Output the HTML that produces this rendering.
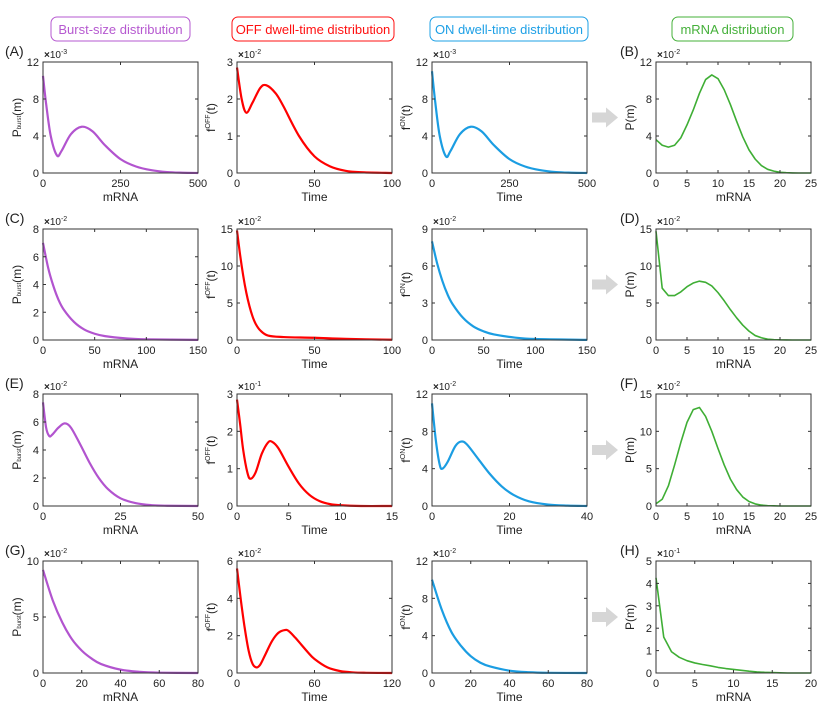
<!DOCTYPE html>
<html><head><meta charset="utf-8"><style>
body{margin:0;background:#fff;}
svg{display:block;font-family:"Liberation Sans",Arial,sans-serif;}
</style></head><body>
<svg id="fig" width="826" height="717" viewBox="0 0 826 717" xmlns="http://www.w3.org/2000/svg">
<rect width="826" height="717" fill="#fff"/>
<g><rect x="51" y="17" width="139" height="24" rx="6" fill="none" stroke="#b659d0" stroke-width="1"/><text x="120.5" y="34" text-anchor="middle" font-size="13" fill="#b659d0">Burst-size distribution</text></g>
<g><rect x="232" y="17" width="162" height="24" rx="6" fill="none" stroke="#ff1010" stroke-width="1"/><text x="313" y="34" text-anchor="middle" font-size="13" fill="#ff1010">OFF dwell-time distribution</text></g>
<g><rect x="430" y="17" width="158" height="24" rx="6" fill="none" stroke="#1ea0e6" stroke-width="1"/><text x="509" y="34" text-anchor="middle" font-size="13" fill="#1ea0e6">ON dwell-time distribution</text></g>
<g><rect x="672" y="17" width="121" height="24" rx="6" fill="none" stroke="#45b03a" stroke-width="1"/><text x="732.5" y="34" text-anchor="middle" font-size="13" fill="#45b03a">mRNA distribution</text></g>
</svg>
<script>
// ---- data ----
const burstA_x=[0,10,25,45,60,90,125,160,200,250,300,350,400,450,500];
const burstA_y=[10.5,7.5,4,1.9,2.4,4.2,5,4.5,3,1.5,0.7,0.3,0.1,0.03,0];
const offA_x=[0,3,6,10,15,19,25,30,40,50,60,70,80,100];
const offA_y=[2.85,2,1.63,1.9,2.3,2.37,2.15,1.8,1.0,0.45,0.18,0.06,0.02,0];
const onA_x=[0,10,25,45,60,90,125,160,200,250,300,350,400,450,500];
const onA_y=[11,7.8,4,1.8,2.4,4.2,5,4.5,3,1.5,0.7,0.3,0.1,0.03,0];
const mrnaB_y=[3.6,3.0,2.8,3.0,3.8,5.2,6.8,8.6,10.1,10.6,10.2,9.0,7.4,5.6,3.9,2.5,1.5,0.8,0.4,0.2,0.08,0.03,0.01,0,0,0];
const burstC_x=[0,5,10,15,20,30,40,50,60,80,100,150];
const burstC_y=[7,5.2,3.9,2.9,2.2,1.3,0.75,0.45,0.28,0.12,0.05,0.01];
const offC_x=[0,2,4,6,8,10,12,15,20,30,50,70,100];
const offC_y=[14.8,11.5,8.7,6.4,4.6,3.2,2.2,1.3,0.6,0.4,0.3,0.15,0.03];
const onC_x=[0,5,10,15,20,30,40,50,60,80,100,150];
const onC_y=[8,6.2,4.8,3.7,2.9,1.8,1.1,0.7,0.45,0.2,0.08,0.01];
const mrnaD_y=[14.7,7,6,6,6.5,7.2,7.7,7.95,7.8,7.3,6.4,5.3,4.1,3.0,2.0,1.2,0.6,0.3,0.12,0.05,0.02,0.01,0,0,0,0];
const burstE_x=[0,1,2,3,5,7,9,12,15,18,21,25,30,35,40,50];
const burstE_y=[7.4,5.6,5.0,5.1,5.6,5.9,5.6,4.4,3.1,2.0,1.2,0.55,0.2,0.06,0.02,0];
const offE_x=[0,0.3,0.6,1.0,1.3,1.8,2.4,3.0,3.4,4,5,6,7,8,9,10,12,15];
const offE_y=[2.85,2.2,1.5,0.9,0.73,0.9,1.4,1.7,1.72,1.55,1.05,0.6,0.3,0.13,0.05,0.02,0,0];
const onE_x=[0,1,2,2.7,4,6,7.5,9,12,15,18,21,25,30,35,40];
const onE_y=[11,7,4.4,4,4.7,6.4,6.9,6.6,5,3.4,2.1,1.2,0.5,0.15,0.04,0];
const mrnaF_y=[0.3,0.9,2.7,5.5,8.5,11.2,12.9,13.2,12,10,7.7,5.5,3.6,2.2,1.2,0.6,0.28,0.12,0.05,0.02,0,0,0,0,0,0];
const burstG_x=[0,5,10,15,20,25,30,40,50,60,80];
const burstG_y=[9.2,6.5,4.5,3.0,2.0,1.3,0.8,0.3,0.1,0.03,0];
const offG_x=[0,3,6,9,12,15,18,22,27,32,37,40,45,50,55,60,70,80,90,100,120];
const offG_y=[5.6,3.9,2.4,1.2,0.5,0.3,0.45,1.0,1.7,2.15,2.3,2.25,1.9,1.5,1.1,0.75,0.3,0.1,0.03,0.01,0];
const onG_x=[0,5,10,15,20,25,30,40,50,60,80];
const onG_y=[10,6.8,4.4,2.9,1.8,1.1,0.7,0.25,0.08,0.02,0];
const mrnaH_y=[4.25,1.6,0.95,0.7,0.55,0.45,0.38,0.32,0.25,0.2,0.16,0.12,0.08,0.05,0.03,0.02,0.01,0,0,0,0];
const mrna25_x=[...Array(26).keys()];
const mrna20_x=[...Array(21).keys()];
// ticks
const xt_500=[0,250,500], xt_100=[0,50,100], xt_150=[0,50,100,150], xt_25=[0,5,10,15,20,25];
const xt_50=[0,25,50], xt_15=[0,5,10,15], xt_40=[0,20,40], xt_80=[0,20,40,60,80], xt_120=[0,60,120], xt_20=[0,5,10,15,20];
const yt_12=[0,4,8,12], yt_3=[0,1,2,3], yt_8=[0,2,4,6,8], yt_15=[0,5,10,15], yt_9=[0,3,6,9], yt_10=[0,5,10], yt_6=[0,2,4,6], yt_5=[0,1,2,3,4,5];

const PURPLE="#b254cf", RED="#ff0000", BLUE="#1b9de2", GREEN="#3fae35";
const cols=[[43,198],[237,392],[432,587],[656,811]];
const rows=[[62,173],[229,340],[394,506],[561,673]];
const panels=[
 [0,0,burstA_x,burstA_y,xt_500,yt_12,-3,PURPLE,'burst','(A)','mRNA',true],
 [0,1,offA_x,offA_y,xt_100,yt_3,-2,RED,'off',null,'Time',true],
 [0,2,onA_x,onA_y,xt_500,yt_12,-3,BLUE,'on',null,'Time',true],
 [0,3,mrna25_x,mrnaB_y,xt_25,yt_12,-2,GREEN,'p','(B)','mRNA',false],
 [1,0,burstC_x,burstC_y,xt_150,yt_8,-2,PURPLE,'burst','(C)','mRNA',true],
 [1,1,offC_x,offC_y,xt_100,yt_15,-2,RED,'off',null,'Time',true],
 [1,2,onC_x,onC_y,xt_150,yt_9,-2,BLUE,'on',null,'Time',true],
 [1,3,mrna25_x,mrnaD_y,xt_25,yt_15,-2,GREEN,'p','(D)','mRNA',false],
 [2,0,burstE_x,burstE_y,xt_50,yt_8,-2,PURPLE,'burst','(E)','mRNA',true],
 [2,1,offE_x,offE_y,xt_15,yt_3,-1,RED,'off',null,'Time',true],
 [2,2,onE_x,onE_y,xt_40,yt_12,-2,BLUE,'on',null,'Time',true],
 [2,3,mrna25_x,mrnaF_y,xt_25,yt_15,-2,GREEN,'p','(F)','mRNA',false],
 [3,0,burstG_x,burstG_y,xt_80,yt_10,-2,PURPLE,'burst','(G)','mRNA',true],
 [3,1,offG_x,offG_y,xt_120,yt_6,-2,RED,'off',null,'Time',true],
 [3,2,onG_x,onG_y,xt_80,yt_12,-2,BLUE,'on',null,'Time',true],
 [3,3,mrna20_x,mrnaH_y,xt_20,yt_5,-1,GREEN,'p','(H)','mRNA',false]
];
const NS="http://www.w3.org/2000/svg";
const svg=document.getElementById('fig');
function mk(tag,attrs,parent){const e=document.createElementNS(NS,tag);for(const k in attrs)e.setAttribute(k,attrs[k]);(parent||svg).appendChild(e);return e;}
function smooth(pts){let d=`M${pts[0][0]},${pts[0][1]}`;for(let i=0;i<pts.length-1;i++){const p0=pts[i-1]||pts[i],p1=pts[i],p2=pts[i+1],p3=pts[i+2]||p2;const c1=[p1[0]+(p2[0]-p0[0])/6,p1[1]+(p2[1]-p0[1])/6],c2=[p2[0]-(p3[0]-p1[0])/6,p2[1]-(p3[1]-p1[1])/6];d+=`C${c1[0]},${c1[1]} ${c2[0]},${c2[1]} ${p2[0]},${p2[1]}`;}return d;}
panels.forEach((p,idx)=>{
 const [r,c,xs,ys,xt,yt,ex,col,kind,lab,xl,sm]=p;
 const [L,R]=cols[c],[T,B]=rows[r];
 const xmax=xt[xt.length-1], ymax=yt[yt.length-1];
 const X=v=>L+(v/xmax)*(R-L), Y=v=>B-(v/ymax)*(B-T);
 const g=mk('g',{});
 
 
 // curve
 const pts=xs.map((x,i)=>[X(x),Y(ys[i])]);
 const path=mk('path',{d:sm?smooth(pts):'M'+pts.map(q=>q.join(',')).join('L'),fill:'none',stroke:col,'stroke-width':sm?2.2:1.6,'stroke-linejoin':'round'},g);
 
 
 // box
 const box=mk('rect',{x:L,y:T,width:R-L,height:B-T,fill:'none',stroke:'#333','stroke-width':1},g);
 
 
 xt.forEach(v=>{const x=X(v);mk('line',{x1:x,y1:B,x2:x,y2:B-3,stroke:'#333'},g);mk('line',{x1:x,y1:T,x2:x,y2:T+3,stroke:'#333'},g);
  const t=mk('text',{x:x,y:B+14,'text-anchor':'middle','font-size':11,fill:'#222'},g);t.textContent=v;
  
  });
 yt.forEach(v=>{const y=Y(v);mk('line',{x1:L,y1:y,x2:L+3,y2:y,stroke:'#333'},g);mk('line',{x1:R,y1:y,x2:R-3,y2:y,stroke:'#333'},g);
  const t=mk('text',{x:L-4,y:y+4,'text-anchor':'end','font-size':11,fill:'#222'},g);t.textContent=v;
  
  });
 const e=mk('text',{x:L+1,y:T-4,'font-size':10,fill:'#222'},g);
 e.innerHTML='<tspan font-weight="bold">×</tspan>10<tspan dy="-4" font-size="7">'+ex+'</tspan>';
 
 
 const xlab=mk('text',{x:(L+R)/2,y:B+28,'text-anchor':'middle','font-size':12,fill:'#222'},g);xlab.textContent=xl;
 
 
 const cy=(T+B)/2, lx=L-22;
 const yl=mk('text',{x:lx,y:cy,'text-anchor':'middle','font-size':12,fill:'#222',transform:`rotate(-90 ${lx} ${cy})`},g);
 if(kind==='burst') yl.innerHTML='P<tspan font-size="6">burst</tspan>(m)';
 else if(kind==='off') yl.innerHTML='f<tspan dy="-5" font-size="7">OFF</tspan><tspan dy="5">(t)</tspan>';
 else if(kind==='on') yl.innerHTML='f<tspan dy="-5" font-size="7">ON</tspan><tspan dy="5">(t)</tspan>';
 else yl.textContent='P(m)';
 
 
 if(lab){const pl=mk('text',{x:c===0?5:L-36,y:T-6,'font-size':14,fill:'#222'},g);pl.textContent=lab;
  
  }
 if(c===3){const ay=(T+B)/2;const a=mk('path',{d:`M592,${ay-5}L606,${ay-5}L606,${ay-10}L618,${ay}L606,${ay+10}L606,${ay+5}L592,${ay+5}Z`,fill:'#d6d6d6'});
  
  }
});
</script>
</body></html>
